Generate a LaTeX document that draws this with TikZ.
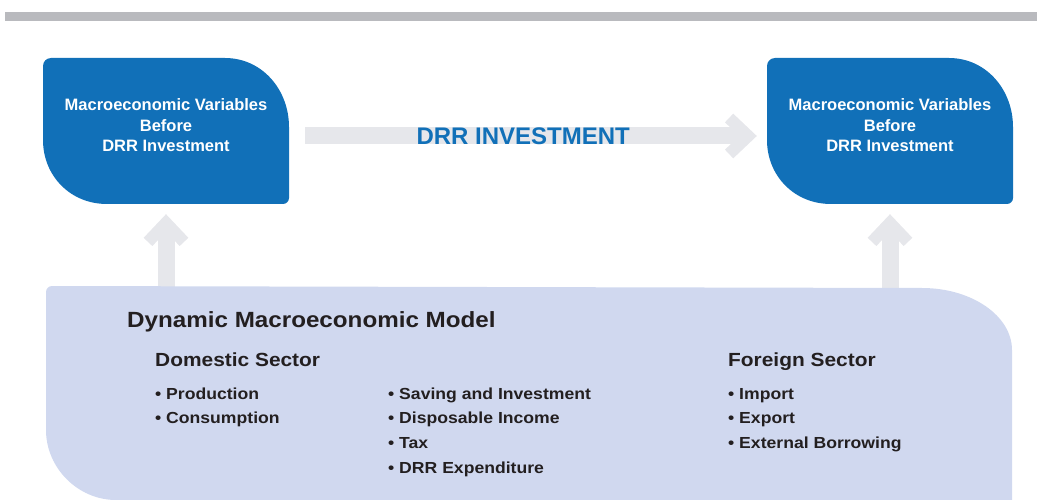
\documentclass[tikz,border=0pt]{standalone}
\usepackage{fontspec}
\setmainfont{Liberation Sans}
\newfontfamily\widesans{Liberation Sans}[FakeStretch=1.1]
\usetikzlibrary{arrows.meta, backgrounds}

\definecolor{drrblue}{HTML}{1170B8}
\definecolor{arrowgray}{HTML}{E6E7EB}
\definecolor{bargray}{HTML}{B9BABE}
\definecolor{panelblue}{HTML}{D0D8EF}
\definecolor{darktext}{HTML}{231F20}

\begin{document}
\begin{tikzpicture}[x=1pt, y=-1pt,
  varbox/.style={text=white, font=\bfseries\fontsize{16.5}{20.4}\selectfont,
    align=center, minimum width=246pt, minimum height=157pt, inner sep=0pt},
  flowarrow/.style={draw=arrowgray, line width=17pt, shorten >=10pt,
    -{Straight Barb[length=19pt, width=36pt, line width=12pt]}},
  flowlabel/.style={text=drrblue, font=\bfseries\fontsize{24}{28}\selectfont},
  heading/.style={text=darktext, anchor=base west, inner sep=0pt,
    font=\widesans\bfseries\fontsize{22}{26}\selectfont},
  sector/.style={heading, font=\widesans\bfseries\fontsize{19}{23}\selectfont},
  listitem/.style={text=darktext, anchor=base west, inner sep=0pt,
    font=\widesans\bfseries\fontsize{16}{20}\selectfont}]

  \useasboundingbox (0,0) rectangle (1037,500);
  \fill[bargray] (5,12) rectangle (1037,21);

  % variable boxes
  \node[varbox] (before) at (166,125.5) {Macroeconomic Variables\\Before\\DRR Investment};
  \node[varbox] (after) at (890,125.5) {Macroeconomic Variables\\Before\\DRR Investment};
  \begin{scope}[on background layer]
    \foreach \nm in {before, after}
      \fill[drrblue, shift={(\nm.center)}]
        (-123,-59.5) .. controls (-123,-63.9) and (-119.4,-67.5) .. (-115,-67.5)
        -- (59,-67.5) .. controls (96,-67.5) and (123,-36) .. (123,1.5)
        -- (123,72.5) .. controls (123,75.8) and (120.3,78.5) .. (117,78.5)
        -- (-59,78.5) .. controls (-96,78.5) and (-123,50) .. (-123,14.5) -- cycle;
  \end{scope}

  % arrows
  \coordinate (paneltop) at (529,292);
  \draw[flowarrow, shorten <=16pt] ([yshift=-10.5pt]before.east) -- ([yshift=-10.5pt]after.west)
    node[flowlabel, pos=0.49] (invest) {DRR INVESTMENT};
  \draw[flowarrow] (before.south |- paneltop) -- (before.south);
  \draw[flowarrow] (after.south |- paneltop) -- (after.south);

  % model panel
  \fill[panelblue] (46,292) .. controls (46,288.7) and (48.7,286) .. (52,286)
    -- (922,288) .. controls (972,288) and (1012,316) .. (1012,350)
    -- (1012,500) -- (116,500) .. controls (78,500) and (46,468) .. (46,430) -- cycle;

  \node[heading] (model) at (127,327) {Dynamic Macroeconomic Model};
  \node[sector] (domestic) at (155,366.7) {Domestic Sector};
  \node[sector] (foreign) at (728,366.7) {Foreign Sector};

  \foreach \txt [count=\i] in {Production, Consumption}
    \node[listitem] (dom\i) at (155,{374.2+24.8*\i}) {• \txt};
  \foreach \txt [count=\i] in {Saving and Investment, Disposable Income, Tax, DRR Expenditure}
    \node[listitem] (mid\i) at (388,{374.2+24.8*\i}) {• \txt};
  \foreach \txt [count=\i] in {Import, Export, External Borrowing}
    \node[listitem] (for\i) at (728,{374.2+24.8*\i}) {• \txt};
\end{tikzpicture}
\end{document}
